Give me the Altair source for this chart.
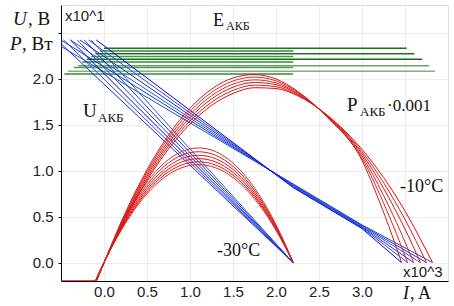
import altair as alt
import pandas as pd

# ---------------- data (I in x10^3 A, U/P in x10^1) ----------------
# Green: E_AKB horizontal levels
E_M10_LEVEL = [2.33, 2.27, 2.21, 2.14, 2.08]
E_M10_START = [0.00, -0.10, -0.20, -0.30, -0.42]
E_M10_END = [3.52, 3.61, 3.70, 3.78, 3.85]
E_M30_LEVEL = [2.30, 2.24, 2.18, 2.12, 2.05]
E_M30_START = [-0.05, -0.15, -0.25, -0.35, -0.46]
E_M30_END = [2.20, 2.20, 2.20, 2.20, 2.20]

# Blue: U_AKB lines, -30 C (start point -> common end)
U_M30_X0 = [-0.50, -0.47, -0.39, -0.31, -0.23, -0.15]
U_M30_Y0 = [2.38, 2.42, 2.42, 2.42, 2.42, 2.42]
U_M30_XEND = [2.20, 2.20, 2.20, 2.20, 2.20, 2.20]

# Blue: U_AKB lines, -10 C (start, two points of the narrow bundle, end)
U_M10_X0 = [-0.50, -0.50, -0.39, -0.28, -0.18, -0.09]
U_M10_Y0 = [2.35, 2.42, 2.42, 2.42, 2.42, 2.42]
U_M10_A_I = [2.20, 2.20, 2.20, 2.20, 2.20, 2.20]
U_M10_A_U = [0.855, 0.847, 0.839, 0.831, 0.823, 0.815]
U_M10_B_I = [3.00, 3.00, 3.00, 3.00, 3.00, 3.00]
U_M10_B_U = [0.410, 0.402, 0.394, 0.386, 0.378, 0.370]
U_M10_XEND = [3.82, 3.75, 3.68, 3.60, 3.53, 3.46]

# Red: P_AKB*0.001 curves, -30 C
P_M30_I = [-0.10, 0.0, 0.2, 0.4, 0.6, 0.8, 1.0, 1.1, 1.2, 1.4, 1.6, 1.8, 2.0, 2.2]
P_M30_1 = [-0.20, 0.0, 0.352, 0.634, 0.845, 0.986, 1.056, 1.065, 1.056, 0.986, 0.845, 0.634, 0.352, 0.0]
P_M30_2 = [-0.20, 0.0, 0.362, 0.652, 0.870, 1.015, 1.087, 1.096, 1.087, 1.015, 0.870, 0.652, 0.362, 0.0]
P_M30_3 = [-0.20, 0.0, 0.374, 0.672, 0.897, 1.046, 1.121, 1.130, 1.121, 1.046, 0.897, 0.672, 0.374, 0.0]
P_M30_4 = [-0.20, 0.0, 0.386, 0.694, 0.925, 1.080, 1.157, 1.166, 1.157, 1.080, 0.925, 0.694, 0.386, 0.0]
P_M30_5 = [-0.20, 0.0, 0.398, 0.717, 0.956, 1.116, 1.195, 1.205, 1.195, 1.116, 0.956, 0.717, 0.398, 0.0]
P_M30_6 = [-0.20, 0.0, 0.412, 0.742, 0.989, 1.154, 1.236, 1.246, 1.236, 1.154, 0.989, 0.742, 0.412, 0.0]

# Red: P_AKB*0.001 curves, -10 C
P_M10_1_I = [-0.09, 0, 0.25, 0.5, 0.75, 1.0, 1.25, 1.5, 1.75, 2.0, 2.25, 2.6, 3.0, 3.25, 3.5, 3.82]
P_M10_1 = [-0.20, 0, 0.482, 0.893, 1.235, 1.506, 1.708, 1.839, 1.901, 1.892, 1.814, 1.600, 1.230, 0.926, 0.560, 0]
P_M10_2_I = [-0.09, 0, 0.25, 0.5, 0.75, 1.0, 1.25, 1.5, 1.75, 2.0, 2.25, 2.6, 3.0, 3.25, 3.5, 3.75]
P_M10_2 = [-0.20, 0, 0.495, 0.916, 1.265, 1.540, 1.743, 1.872, 1.929, 1.912, 1.823, 1.595, 1.206, 0.871, 0.469, 0]
P_M10_3_I = [-0.09, 0, 0.25, 0.5, 0.75, 1.0, 1.25, 1.5, 1.75, 2.0, 2.25, 2.6, 3.0, 3.25, 3.5, 3.68]
P_M10_3 = [-0.20, 0, 0.508, 0.940, 1.295, 1.575, 1.779, 1.907, 1.958, 1.934, 1.834, 1.590, 1.182, 0.809, 0.365, 0]
P_M10_4_I = [-0.09, 0, 0.25, 0.5, 0.75, 1.0, 1.25, 1.5, 1.75, 2.0, 2.25, 2.6, 3.0, 3.25, 3.45, 3.60]
P_M10_4 = [-0.20, 0, 0.521, 0.963, 1.325, 1.609, 1.814, 1.940, 1.986, 1.954, 1.843, 1.585, 1.158, 0.731, 0.333, 0]
P_M10_5_I = [-0.09, 0, 0.25, 0.5, 0.75, 1.0, 1.25, 1.5, 1.75, 2.0, 2.25, 2.6, 3.0, 3.25, 3.4, 3.53]
P_M10_5 = [-0.20, 0, 0.534, 0.986, 1.356, 1.644, 1.850, 1.974, 2.016, 1.976, 1.854, 1.580, 1.134, 0.649, 0.315, 0]
P_M10_6_I = [-0.09, 0, 0.25, 0.5, 0.75, 1.0, 1.25, 1.5, 1.75, 2.0, 2.25, 2.6, 3.0, 3.2, 3.35, 3.46]
P_M10_6 = [-0.20, 0, 0.547, 1.009, 1.386, 1.678, 1.885, 2.007, 2.044, 1.996, 1.863, 1.575, 1.110, 0.669, 0.296, 0]

# Red clipped part along the bottom edge
P_FLOOR_I = [-0.50, -0.09]
P_FLOOR_V = [-0.20, -0.20]

X_TICKS = [0.0, 0.5, 1.0, 1.5, 2.0, 2.5, 3.0, 3.5]
Y_TICKS = [0.0, 0.5, 1.0, 1.5, 2.0, 2.5]

# ---------------- styles ----------------
GREEN_M10 = ["#1a751a", "#1e731e", "#186a18", "#6f9c6f", "#86ab86"]
GREEN_M30 = ["#2f8f2f", "#3f9f3f", "#2f8f2f", "#4aa34a", "#2f8f2f"]
BLUE = ["#1030e0", "#3050c0", "#0000ff", "#2a48b8", "#1538d8", "#3355cc"]
RED = ["#ff1a1a", "#c41e1e", "#ff0000", "#b52a2a", "#e81010", "#c03030"]

rows = []
names, colors = [], []


def add(name, kind, xs, ys, color):
    names.append(name)
    colors.append(color)
    for k, (x, y) in enumerate(zip(xs, ys)):
        rows.append({"series": name, "kind": kind, "I": x, "V": y, "k": k})


for i in range(5):
    add(f"E10_{i}", "E", [E_M10_START[i], E_M10_END[i]], [E_M10_LEVEL[i]] * 2, GREEN_M10[i])
    add(f"E30_{i}", "E", [E_M30_START[i], E_M30_END[i]], [E_M30_LEVEL[i]] * 2, GREEN_M30[i])

for i in range(6):
    add(f"U30_{i}", "U", [U_M30_X0[i], U_M30_XEND[i]], [U_M30_Y0[i], 0.0], BLUE[i])
    add(f"U10_{i}", "U",
        [U_M10_X0[i], U_M10_A_I[i], U_M10_B_I[i], U_M10_XEND[i]],
        [U_M10_Y0[i], U_M10_A_U[i], U_M10_B_U[i], 0.0], BLUE[(i + 3) % 6])

for i, p in enumerate([P_M30_1, P_M30_2, P_M30_3, P_M30_4, P_M30_5, P_M30_6]):
    add(f"P30_{i}", "P", P_M30_I, p, RED[i])
p10 = [(P_M10_1_I, P_M10_1), (P_M10_2_I, P_M10_2), (P_M10_3_I, P_M10_3),
       (P_M10_4_I, P_M10_4), (P_M10_5_I, P_M10_5), (P_M10_6_I, P_M10_6)]
for i, (xs, ys) in enumerate(p10):
    add(f"P10_{i}", "P", xs, ys, RED[(i + 2) % 6])
add("Pfloor", "F", P_FLOOR_I, P_FLOOR_V, "#ff0000")

df = pd.DataFrame(rows)

color_scale = alt.Scale(domain=names, range=colors)
x_enc = alt.X("I:Q", scale=alt.Scale(domain=[-0.5, 4.0], nice=False, zero=False),
              axis=alt.Axis(values=X_TICKS, title=None, ticks=False, grid=True,
                            labelExpr="datum.value > 3.2 ? '' : format(datum.value, '.1f')",
                            labelFont="Liberation Sans", labelFontSize=15, labelColor="#222",
                            labelPadding=3, labelOverlap=False, domainColor="#000",
                            gridColor="#ececec"))
y_enc = alt.Y("V:Q", scale=alt.Scale(domain=[-0.2, 2.8], nice=False, zero=False),
              axis=alt.Axis(values=Y_TICKS, title=None, tickSize=3, grid=True,
                            labelExpr="datum.value > 2.2 ? '' : format(datum.value, '.1f')",
                            labelFont="Liberation Sans", labelFontSize=15, labelColor="#222",
                            labelPadding=5, labelOverlap=False, domainColor="#000",
                            tickColor="#000", gridColor="#ececec"))

base = alt.Chart(df)


def line_layer(kind, width=1.0):
    return base.transform_filter(alt.datum.kind == kind).mark_line(
        strokeWidth=width, clip=True, interpolate="monotone" if kind == "P" else "linear"
    ).encode(x=x_enc, y=y_enc, order=alt.Order("k:Q"),
             color=alt.Color("series:N", scale=color_scale, legend=None))


green = line_layer("E", 1.4)
blue = line_layer("U", 1.0)
red = line_layer("P", 1.0)
floor = line_layer("F", 1.6)

one = alt.Data(values=[{"a": 1}])


def txt(s, x, y, size, font="Liberation Serif", style="normal", color="#111"):
    return alt.Chart(one).mark_text(
        text=s, font=font, fontSize=size, fontStyle=style, align="left",
        baseline="alphabetic", color=color
    ).encode(x=alt.value(x), y=alt.value(y))


texts = [
    txt("x10^1", 4, 16, 15, font="Liberation Sans", color="#222"),
    txt("x10^3", 342, 272, 15, font="Liberation Sans", color="#222"),
    txt("E", 152, 21, 18),
    txt("АКБ", 165, 25, 12),
    txt("U", 22, 112, 19),
    txt("АКБ", 37, 117, 13),
    txt("P", 286, 106, 19),
    txt("АКБ", 299, 111, 13),
    txt("·0.001", 326, 106, 17),
    txt("-10°C", 339, 187, 18),
    txt("-30°C", 156, 251, 18),
    txt("I", 342, 294, 18, style="italic"),
    txt(", A", 349, 294, 18),
    txt("U", -48, 20, 19, style="italic"),
    txt(", В", -33, 20, 19),
    txt("P", -51, 45, 19, style="italic"),
    txt(", Вт", -39, 45, 19),
]

chart = alt.layer(green, blue, red, floor, *texts).properties(
    width=387, height=276,
    autosize=alt.AutoSizeParams(type="none"),
    padding={"left": 61, "top": 5, "right": 6, "bottom": 25},
).configure_view(stroke="#333", strokeWidth=1).configure(background="white")

chart.save("out.html", embed_options={"renderer": "svg", "actions": False})
